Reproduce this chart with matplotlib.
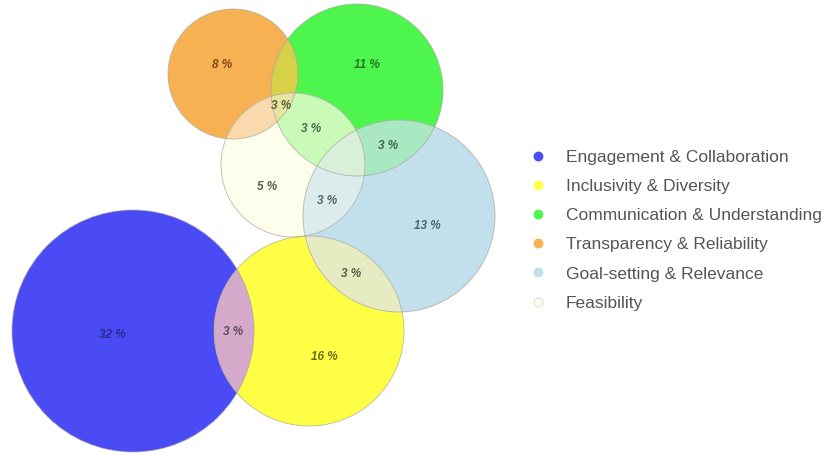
import numpy as np
import matplotlib.pyplot as plt
from matplotlib.patches import Circle, Polygon
from matplotlib.lines import Line2D

# ---------------------------------------------------------------------------
# Data
# ---------------------------------------------------------------------------
SET_NAMES = ['Engagement & Collaboration', 'Inclusivity & Diversity',
             'Communication & Understanding', 'Transparency & Reliability',
             'Goal-setting & Relevance', 'Feasibility']
SET_COLORS = ['#4b4bf6', '#ffff45', '#4df54d', '#f8b152', '#c1e0ec', '#fefeec']

# regions: which sets they belong to, and their share (%)
REGION_SETS = [(0,), (1,), (2,), (3,), (4,), (5,),
               (0, 1), (1, 4), (4, 5), (2, 4), (2, 5), (2, 3, 5)]
REGION_VALUES = [32, 16, 11, 8, 13, 5, 3, 3, 3, 3, 3, 3]

# ---------------------------------------------------------------------------
# Layout (pixel coordinates of the 833x454 canvas)
# ---------------------------------------------------------------------------
CIRCLES = [(133, 331, 121), (309, 331, 95), (357, 90, 86),
           (233, 74, 65), (399, 216, 96), (293, 165, 72)]
LABEL_POS = [(112, 335), (324, 357), (367, 65), (222, 65), (427, 226), (267, 187),
             (233, 332), (351, 274), (327, 201), (388, 146), (311, 129), (281, 106)]
LABEL_COLORS = ['#2b2b8c', '#6b6b12', '#1d7a1d', '#7a4a12', '#4a6272', '#5a5a50',
                '#5a4a5a', '#5a5a4a', '#5a6262', '#3a6a4a', '#4a6a4a', '#5a5a3a']

# overlap fills
OVERLAP_FILLS = {
    (0, 1): '#d4a9c9',
    (1, 4): '#e7ebc2',
    (4, 5): '#dcebec',
    (2, 4): '#a9e8c1',
    (2, 5): '#cafab8',
    (2, 3): '#d7d148',
    (3, 5): '#fad9ac',
    (2, 3, 5): '#e6e49e',
    (2, 4, 5): '#d8f0da',
}


def intersection_polygon(ids, n=720):
    """Boundary of the intersection of several disks (convex)."""
    pts = []
    for i in ids:
        cx, cy, r = CIRCLES[i]
        t = np.linspace(0, 2 * np.pi, n, endpoint=False)
        x, y = cx + r * np.cos(t), cy + r * np.sin(t)
        keep = np.ones(n, dtype=bool)
        for j in ids:
            if j == i:
                continue
            ox, oy, orr = CIRCLES[j]
            keep &= (x - ox) ** 2 + (y - oy) ** 2 <= orr ** 2 + 1e-6
        pts.append(np.column_stack([x[keep], y[keep]]))
    pts = np.vstack(pts)
    c = pts.mean(axis=0)
    order = np.argsort(np.arctan2(pts[:, 1] - c[1], pts[:, 0] - c[0]))
    return pts[order]


fig = plt.figure(figsize=(8.33, 4.54), dpi=100)
ax = fig.add_axes([0, 0, 1, 1])
ax.set_xlim(0, 833)
ax.set_ylim(454, 0)
ax.set_aspect('equal')
ax.axis('off')

# base circles
for (cx, cy, r), col in zip(CIRCLES, SET_COLORS):
    ax.add_patch(Circle((cx, cy), r, facecolor=col, edgecolor='none', zorder=1))

# overlaps
for ids, col in sorted(OVERLAP_FILLS.items(), key=lambda kv: len(kv[0])):
    poly = intersection_polygon(ids)
    ax.add_patch(Polygon(poly, closed=True, facecolor=col, edgecolor='none',
                         zorder=2 + len(ids)))

# outlines
for (cx, cy, r) in CIRCLES:
    ax.add_patch(Circle((cx, cy), r, facecolor='none', edgecolor='#a8a8a0',
                        linewidth=0.6, alpha=0.8, zorder=6))

# labels
for (x, y), val, col in zip(LABEL_POS, REGION_VALUES, LABEL_COLORS):
    ax.text(x, y, f'{val} %', ha='center', va='center', fontsize=8.5,
            fontstyle='italic', fontweight='bold', color=col,
            family='Liberation Sans', zorder=8)

# legend
handles = [Line2D([], [], linestyle='none', marker='o', markersize=6.5,
                  markerfacecolor=col, markeredgecolor=col if i != 5 else '#d8d8c8',
                  markeredgewidth=0.6)
           for i, col in enumerate(SET_COLORS)]
leg = fig.legend(handles, SET_NAMES, loc='upper left', bbox_to_anchor=(0.617, 0.705),
                 frameon=False, handletextpad=1.1, labelspacing=0.81,
                 prop={'family': 'Liberation Sans', 'size': 12.5}, handlelength=1.0)
for t in leg.get_texts():
    t.set_color('#555555')

fig.savefig('out.png', dpi=100)
